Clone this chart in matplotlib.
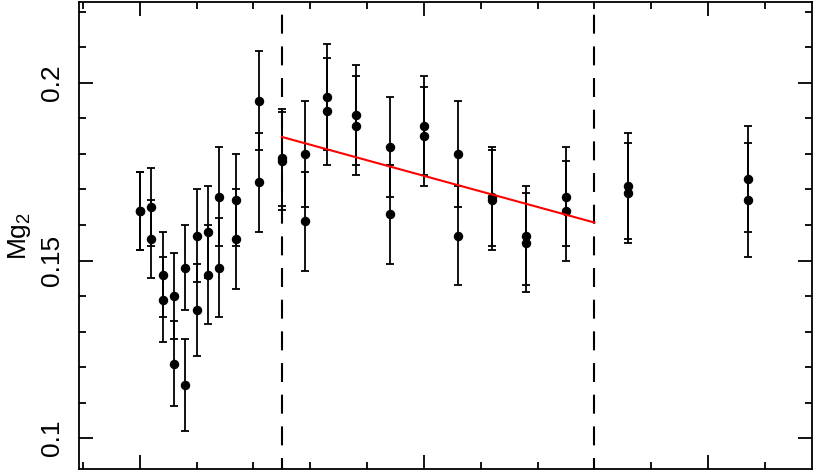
import matplotlib
matplotlib.use("Agg")
import matplotlib.pyplot as plt
from matplotlib.ticker import MultipleLocator, NullFormatter

plt.rcParams["font.family"] = ["Liberation Sans", "DejaVu Sans"]
plt.rcParams["mathtext.fontset"] = "custom"
plt.rcParams["mathtext.rm"] = "Liberation Sans"
plt.rcParams["mathtext.it"] = "Liberation Sans:italic"

# two measurements at each position
x_pos = [0.00, 0.02, 0.04, 0.06, 0.08, 0.10, 0.12, 0.14, 0.17, 0.21, 0.25,
         0.29, 0.33, 0.38, 0.44, 0.50, 0.56, 0.62, 0.68, 0.75, 0.86, 1.07]
mg2_a = [0.164, 0.165, 0.146, 0.140, 0.148, 0.157, 0.158, 0.168, 0.167, 0.195, 0.179,
         0.180, 0.196, 0.191, 0.182, 0.188, 0.180, 0.168, 0.157, 0.168, 0.171, 0.173]
err_a = [0.011, 0.011, 0.012, 0.012, 0.012, 0.013, 0.013, 0.014, 0.013, 0.014, 0.0136,
         0.015, 0.015, 0.014, 0.014, 0.014, 0.015, 0.014, 0.014, 0.014, 0.015, 0.015]
mg2_b = [0.164, 0.156, 0.139, 0.121, 0.115, 0.136, 0.146, 0.148, 0.156, 0.172, 0.178,
         0.161, 0.192, 0.188, 0.163, 0.185, 0.157, 0.167, 0.155, 0.164, 0.169, 0.167]
err_b = [0.011, 0.011, 0.012, 0.012, 0.013, 0.013, 0.014, 0.014, 0.014, 0.014, 0.0138,
         0.014, 0.015, 0.014, 0.014, 0.014, 0.014, 0.014, 0.014, 0.014, 0.014, 0.016]

# linear fit drawn between the two boundaries
fit_x = [0.25, 0.80]
fit_y = [0.1848, 0.1607]
boundaries = [0.25, 0.80]

ymin, ymax = 0.0913, 0.2228

fig = plt.figure(figsize=(8.17, 4.72), dpi=100)
ax = fig.add_axes([0.0967, 0.0064, 0.8972, 0.9894])

for xb in boundaries:
    # drawn top-down so the dash pattern starts with a gap under the frame
    ax.plot([xb, xb], [ymax, ymin], color="black", linewidth=1.5,
            linestyle=(9.1, (9.1, 6.1)), zorder=1)

for yv, ev in ((mg2_a, err_a), (mg2_b, err_b)):
    ax.errorbar(x_pos, yv, yerr=ev, fmt="o", color="black", ms=5.8,
                elinewidth=1.3, capsize=2.8, capthick=1.3, zorder=3)

ax.plot(fit_x, fit_y, color="red", linewidth=1.5, zorder=4)

ax.set_xlim(-0.107, 1.183)
ax.set_ylim(ymin, ymax)

ax.xaxis.set_major_locator(MultipleLocator(0.5))
ax.xaxis.set_minor_locator(MultipleLocator(0.1))
ax.xaxis.set_major_formatter(NullFormatter())
ax.yaxis.set_minor_locator(MultipleLocator(0.01))
ax.set_yticks([0.1, 0.15, 0.2])
ax.set_yticklabels(["0.1", "0.15", "0.2"])

ax.tick_params(which="both", direction="in", top=True, right=True, width=1.3)
ax.tick_params(which="major", length=10)
ax.tick_params(which="minor", length=5)
ax.tick_params(axis="y", labelsize=19, labelrotation=90, pad=11)
for lab in ax.get_yticklabels():
    lab.set_va("center")

for sp in ax.spines.values():
    sp.set_linewidth(1.3)

ax.set_ylabel("Mg$_2$", fontsize=19)
ax.yaxis.set_label_coords(-0.063, 0.5)

fig.savefig("out.png", dpi=100)
